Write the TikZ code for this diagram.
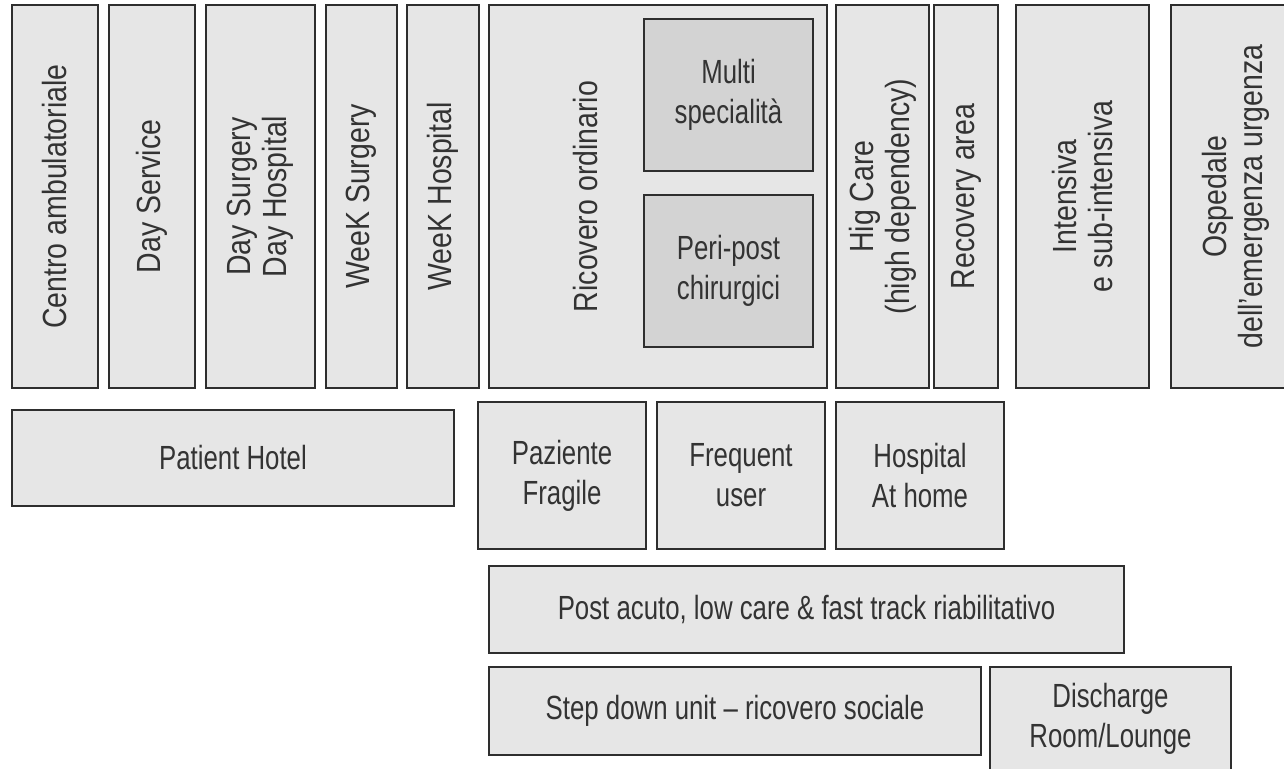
\documentclass[tikz,border=0pt]{standalone}
\usepackage{fontspec}
\setmainfont{Liberation Sans}[FakeStretch=0.77]
\newfontfamily\tallfont{Liberation Sans}[FakeStretch=0.85]
\usepackage{tikz}
\definecolor{Ink}{HTML}{333333}
\definecolor{Edge}{HTML}{2E2E2E}
\definecolor{Cell}{HTML}{E6E6E6}
\definecolor{CellDark}{HTML}{D3D3D3}
\tikzset{
  unitbox/.style={draw=Edge,fill=Cell,line width=1.8pt,inner sep=0pt,align=center,font=\fontsize{33.5}{40}\selectfont,text=Ink},
  subbox/.style={unitbox,fill=CellDark},
  tallbox/.style={unitbox,rotate=90,minimum width=383pt,font=\tallfont\fontsize{33.5}{36}\selectfont}
}

\begin{document}
\begin{tikzpicture}[x=1pt,y=-1pt]
  \useasboundingbox (0,0) rectangle (1284,768);
  % top row, rotated labels
  \node[tallbox,minimum height=86pt] (centro) at (55,196.5) {Centro ambulatoriale};
  \node[tallbox,minimum height=86pt] (daysvc) at (152,196.5) {Day Service};
  \node[tallbox,minimum height=109pt] (daysurg) at (260.5,196.5) {Day Surgery\\Day Hospital};
  \node[tallbox,minimum height=71pt] (weeksurg) at (361.5,196.5) {WeeK Surgery};
  \node[tallbox,minimum height=72pt] (weekhosp) at (443,196.5) {WeeK Hospital};
  \node[tallbox,minimum height=338pt] (ricovero) at (658,196.5) {};
  \node[rotate=90,font=\tallfont\fontsize{33.5}{36}\selectfont,text=Ink] (ricoverolbl) at (586,196.5) {Ricovero ordinario};
  \node[subbox,minimum width=169pt,minimum height=152pt] (multi) at (728.5,95) {Multi\\specialità};
  \node[subbox,minimum width=169pt,minimum height=152pt] (peri) at (728.5,271) {Peri-post\\chirurgici};
  \node[tallbox,minimum height=93pt] (higcare) at (882.5,196.5) {Hig Care\\(high dependency)};
  \node[tallbox,minimum height=64pt] (recovery) at (966,196.5) {Recovery area};
  \node[tallbox,minimum height=133pt] (intensiva) at (1082.5,196.5) {Intensiva\\e sub-intensiva};
  \node[tallbox,minimum height=129pt] (ospedale) at (1235.5,196.5) {Ospedale\\dell’emergenza urgenza};
  % lower rows
  \node[unitbox,minimum width=442pt,minimum height=96pt] (hotel) at (233,458) {Patient Hotel};
  \node[unitbox,minimum width=168pt,minimum height=147pt] (fragile) at (562,475.5) {Paziente\\Fragile};
  \node[unitbox,minimum width=168pt,minimum height=147pt] (frequent) at (741,475.5) {Frequent\\user};
  \node[unitbox,minimum width=168pt,minimum height=147pt] (athome) at (920,475.5) {Hospital\\At home};
  \node[unitbox,minimum width=635pt,minimum height=87pt] (postacuto) at (806.5,609.5) {Post acuto, low care \& fast track riabilitativo};
  \node[unitbox,minimum width=492pt,minimum height=88pt] (stepdown) at (735,711) {Step down unit – ricovero sociale};
  \node[unitbox,minimum width=241pt,minimum height=104pt] (discharge) at (1110.5,719) {Discharge\\Room/Lounge};
\end{tikzpicture}
\end{document}
